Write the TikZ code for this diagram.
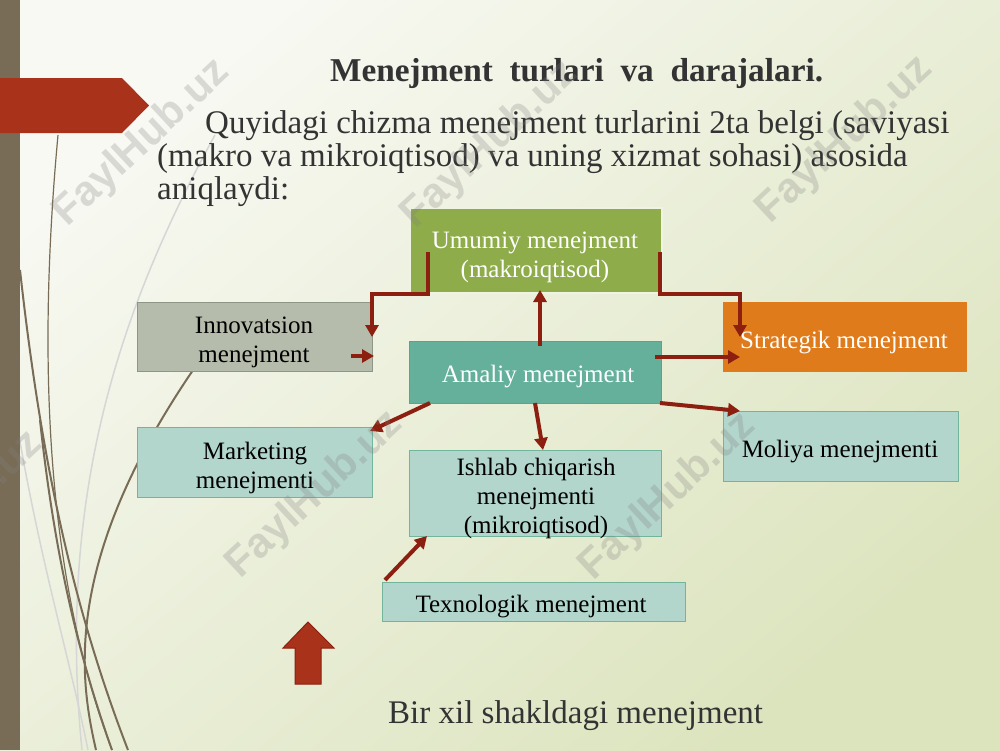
\documentclass[tikz,border=0pt]{standalone}
\usepackage{fontspec}
\setmainfont{Liberation Serif}
\newfontfamily\wmfont{Liberation Sans}
\usetikzlibrary{arrows.meta}
\definecolor{bgA}{HTML}{F8F9F3}
\definecolor{bgB}{HTML}{DCE4BE}
\definecolor{barc}{HTML}{786C56}
\definecolor{redc}{HTML}{A9321B}
\definecolor{arrc}{HTML}{8C1F0F}
\definecolor{olivec}{HTML}{8FAC4A}
\definecolor{grayg}{HTML}{B5BCAB}
\definecolor{graygb}{HTML}{8E9686}
\definecolor{tealc}{HTML}{64B09A}
\definecolor{tealb}{HTML}{5AA48E}
\definecolor{orangec}{HTML}{E07B1B}
\definecolor{ltteal}{HTML}{B3D6CC}
\definecolor{lttealb}{HTML}{72B49C}
\definecolor{txtc}{HTML}{333333}
\begin{document}
\begin{tikzpicture}[x=1pt,y=-1pt,
  box/.style={rectangle, inner sep=0pt, line width=1pt},
  lbox/.style={box, fill=ltteal, draw=lttealb},
  btxt/.style={inner sep=0pt, align=center, font=\fontsize{25}{29}\selectfont},
  arr/.style={draw=arrc, line width=4pt, -{Triangle[length=12pt,width=13pt]}},
  wm/.style={font=\wmfont\bfseries\fontsize{42}{42}\selectfont, text=gray, opacity=0.26, rotate=43},
  curve/.style={draw=barc, line width=2pt},
  thincurve/.style={draw=barc, line width=1.2pt},
  faint/.style={draw=black!16, line width=1.5pt},
  txtline/.style={anchor=base west, text=txtc, inner sep=0pt, font=\fontsize{33}{35}\selectfont}]
\useasboundingbox (0,0) rectangle (1000,750);
\shade[shading=axis, top color=bgA, bottom color=bgB, shading angle=40] (0,0) rectangle (1000,750);
% decorative curves
\draw[faint] (215,135) .. controls (130,290) and (55,480) .. (82,750);
\draw[faint] (18,430) .. controls (40,560) and (70,660) .. (88,750);
\draw[thincurve] (58,135) .. controls (40,330) and (40,560) .. (112,750);
\draw[curve] (20,270) .. controls (40,450) and (70,600) .. (128,750);
\draw[curve] (40,420) .. controls (55,560) and (80,660) .. (112,750);
\draw[curve] (200,360) .. controls (60,560) and (80,680) .. (96,750);
% left bar
\fill[barc] (0,0) rectangle (20,750);
% red banner
\fill[redc] (0,78) -- (122,78) -- (149,105.5) -- (122,133) -- (0,133) -- cycle;
% title and text
\node[anchor=base west, text=txtc, inner sep=0pt, font=\bfseries\fontsize{33.3}{40}\selectfont] (title) at (330,81) {Menejment\ \ turlari\ \ va\ \ darajalari.};
\node[txtline] (para1) at (205,133) {Quyidagi chizma menejment turlarini 2ta belgi (saviyasi};
\node[txtline] (para2) at (157,166) {(makro va mikroiqtisod) va uning xizmat sohasi) asosida};
\node[txtline] (para3) at (157,199) {aniqlaydi:};
% boxes
\node[box, fill=olivec, draw=white!85!olivec, line width=1.5pt, minimum width=252, minimum height=85] (umumiy) at (536,250.5) {};
\node[box, fill=grayg, draw=graygb, minimum width=235, minimum height=69] (innov) at (254.5,336.5) {};
\node[box, fill=tealc, draw=tealb, minimum width=252, minimum height=62] (amaliy) at (535,372) {};
\node[box, fill=orangec, draw=orangec, minimum width=243, minimum height=69] (strateg) at (844.5,336.5) {};
\node[lbox, minimum width=235, minimum height=70] (market) at (254.5,462) {};
\node[lbox, minimum width=235, minimum height=70] (moliya) at (840.5,446) {};
\node[lbox, minimum width=252, minimum height=86] (ishlab) at (535,493) {};
\node[lbox, minimum width=303, minimum height=39] (texno) at (533.5,601.5) {};
% box texts
\node[btxt, text=white] (umumiyT) at (535,257) {Umumiy menejment\\(makroiqtisod)};
\node[btxt] (innovT) at (254,342) {Innovatsion\\menejment};
\node[btxt, text=white] (amaliyT) at (538,377) {Amaliy menejment};
\node[btxt, text=white] (strategT) at (844,343) {Strategik menejment};
\node[btxt] (marketT) at (255,468) {Marketing\\menejmenti};
\node[btxt] (moliyaT) at (840,452) {Moliya menejmenti};
\node[btxt] (ishlabT) at (536,498) {Ishlab chiqarish\\menejmenti\\(mikroiqtisod)};
\node[btxt] (texnoT) at (531,607) {Texnologik menejment};
% arrow end points
\coordinate (a1s) at (428,252);
\coordinate (a1e) at (372,337);
\coordinate (a2s) at (351,356);
\coordinate (a2e) at (374,356);
\coordinate (a3s) at (540,346);
\coordinate (a3e) at (540,290);
\coordinate (a4s) at (660,252);
\coordinate (a4e) at (740,337);
\coordinate (a5s) at (655,357);
\coordinate (a5e) at (740,357);
\coordinate (a6s) at (660,403);
\coordinate (a6e) at (740,411);
\coordinate (a7s) at (430,403);
\coordinate (a7e) at (370,431);
\coordinate (a8s) at (535,403);
\coordinate (a8e) at (543,450);
\coordinate (a9s) at (385,580);
\coordinate (a9e) at (427,536);
% arrows
\draw[arr] (a1s) -- (a1s |- umumiy.south) -| (a1e);
\draw[arr] (a2s) -- (a2e);
\draw[arr] (a3s) -- (a3e);
\draw[arr] (a4s) -- (a4s |- umumiy.south) -| (a4e);
\draw[arr] (a5s) -- (a5e);
\draw[arr] (a6s) -- (a6e);
\draw[arr] (a7s) -- (a7e);
\draw[arr] (a8s) -- (a8e);
\draw[arr] (a9s) -- (a9e);
% big up arrow
\draw[fill=redc, draw=arrc, line width=1pt, line join=miter] (308,622) -- (334,648) -- (321,648) -- (321,684) -- (295,684) -- (295,648) -- (283,648) -- cycle;
% bottom text
\node[txtline] (bottom) at (388,723) {Bir xil shakldagi menejment};
% watermarks
\node[wm] (wm1) at (142,143) {FaylHub.uz};
\node[wm] (wm2) at (490,145) {FaylHub.uz};
\node[wm] (wm3) at (845,140) {FaylHub.uz};
\node[wm] (wm4) at (-45,515) {FaylHub.uz};
\node[wm] (wm5) at (315,495) {FaylHub.uz};
\node[wm] (wm6) at (668,497) {FaylHub.uz};
\end{tikzpicture}
\end{document}
